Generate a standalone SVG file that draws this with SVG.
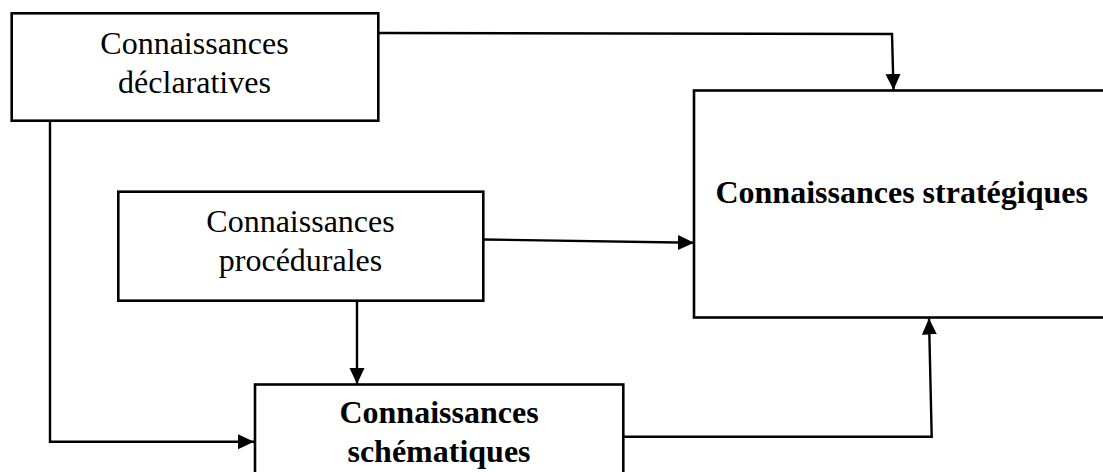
<svg xmlns="http://www.w3.org/2000/svg" width="1103" height="472" viewBox="0 0 1103 472">
<style>
  .box { fill: #ffffff; stroke: #000000; stroke-width: 2.6; }
  .conn { fill: none; stroke: #000000; stroke-width: 2.4; }
  .t { font-family: "Liberation Serif", "Times New Roman", serif; font-size: 32px; fill: #000000; text-anchor: middle; }
  .b { font-weight: bold; }
</style>
<defs>
  <marker id="arrow" markerUnits="userSpaceOnUse" markerWidth="17" markerHeight="16" refX="16" refY="7.5" orient="auto">
    <path d="M0,0 L16,7.5 L0,15 z" fill="#000000"/>
  </marker>
</defs>
<rect width="1103" height="472" fill="#ffffff"/>
<g id="connectors">
  <path class="conn" d="M378,33 L892,34 L893.5,90" marker-end="url(#arrow)"/>
  <path class="conn" d="M50,121 L50,441.7 L254,441.7" marker-end="url(#arrow)"/>
  <path class="conn" d="M483.5,239.5 L694,242.7" marker-end="url(#arrow)"/>
  <path class="conn" d="M357,301 L357,384" marker-end="url(#arrow)"/>
  <path class="conn" d="M623.5,436.7 L931.7,436.7 L929,318.5" marker-end="url(#arrow)"/>
</g>
<g id="node-declaratives">
  <rect class="box" x="11.7" y="13.3" width="366.6" height="107.4"/>
  <text class="t" x="194.5" y="54.3">Connaissances</text>
  <text class="t" x="194.5" y="93.3">déclaratives</text>
</g>
<g id="node-procedurales">
  <rect class="box" x="118.3" y="191.7" width="365" height="109"/>
  <text class="t" x="300.5" y="231.7">Connaissances</text>
  <text class="t" x="300.5" y="270.7">procédurales</text>
</g>
<g id="node-strategiques">
  <rect class="box" x="694" y="90.5" width="416" height="227"/>
  <text class="t b" x="901.7" y="203">Connaissances stratégiques</text>
</g>
<g id="node-schematiques">
  <rect class="box" x="255" y="384.5" width="368.3" height="100"/>
  <text class="t b" x="439" y="423.3">Connaissances</text>
  <text class="t b" x="439" y="461.7">schématiques</text>
</g>
</svg>
